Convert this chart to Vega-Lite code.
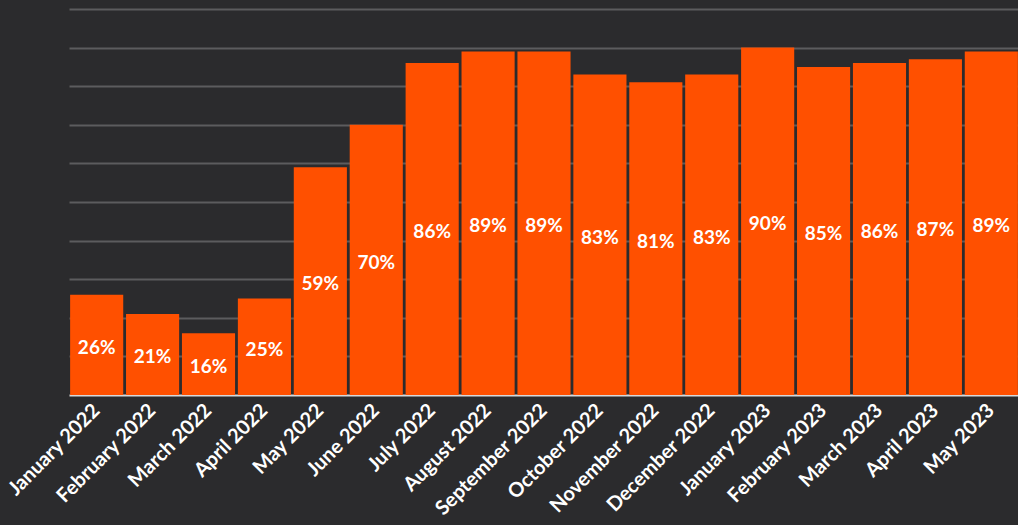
{
  "$schema": "https://vega.github.io/schema/vega-lite/v6.json",
  "autosize": "none",
  "width": 950,
  "height": 386,
  "padding": {"left": 69, "top": 9, "right": 0, "bottom": 130},
  "background": "#2b2b2d",
  "config": {"view": {"stroke": null}},
  "data": {"values": [
    {"month": "January 2022", "value": 0.26},
    {"month": "February 2022", "value": 0.21},
    {"month": "March 2022", "value": 0.16},
    {"month": "April 2022", "value": 0.25},
    {"month": "May 2022", "value": 0.59},
    {"month": "June 2022", "value": 0.70},
    {"month": "July 2022", "value": 0.86},
    {"month": "August 2022", "value": 0.89},
    {"month": "September 2022", "value": 0.89},
    {"month": "October 2022", "value": 0.83},
    {"month": "November 2022", "value": 0.81},
    {"month": "December 2022", "value": 0.83},
    {"month": "January 2023", "value": 0.90},
    {"month": "February 2023", "value": 0.85},
    {"month": "March 2023", "value": 0.86},
    {"month": "April 2023", "value": 0.87},
    {"month": "May 2023", "value": 0.89}
  ]},
  "transform": [{"calculate": "datum.value / 2", "as": "mid"}],
  "encoding": {
    "x": {
      "field": "month", "type": "nominal", "sort": null,
      "scale": {"paddingInner": 0.05, "paddingOuter": 0.02},
      "axis": {
        "title": null, "labelAngle": -45, "labelAlign": "right", "labelBaseline": "middle",
        "labelColor": "#ffffff", "labelFont": "Lato", "labelFontWeight": "bold", "labelFontSize": 20,
        "labelPadding": 12, "ticks": false, "domainColor": "#d9d9d9", "domainWidth": 2, "grid": false
      }
    }
  },
  "layer": [
    {
      "mark": {"type": "bar", "color": "#ff5000"},
      "encoding": {
        "y": {
          "field": "value", "type": "quantitative",
          "scale": {"domain": [0, 1], "nice": false},
          "axis": {"title": null, "labels": false, "ticks": false, "domain": false,
                   "values": [0.1,0.2,0.3,0.4,0.5,0.6,0.7,0.8,0.9,1.0],
                   "gridColor": "#5c5c5e", "gridWidth": 2}
        }
      }
    },
    {
      "mark": {"type": "text", "color": "#ffffff", "font": "Lato", "fontWeight": "bold", "fontSize": 19, "baseline": "middle", "dy": 3},
      "encoding": {
        "y": {"field": "mid", "type": "quantitative"},
        "text": {"field": "value", "type": "quantitative", "format": ".0%"}
      }
    }
  ]
}
